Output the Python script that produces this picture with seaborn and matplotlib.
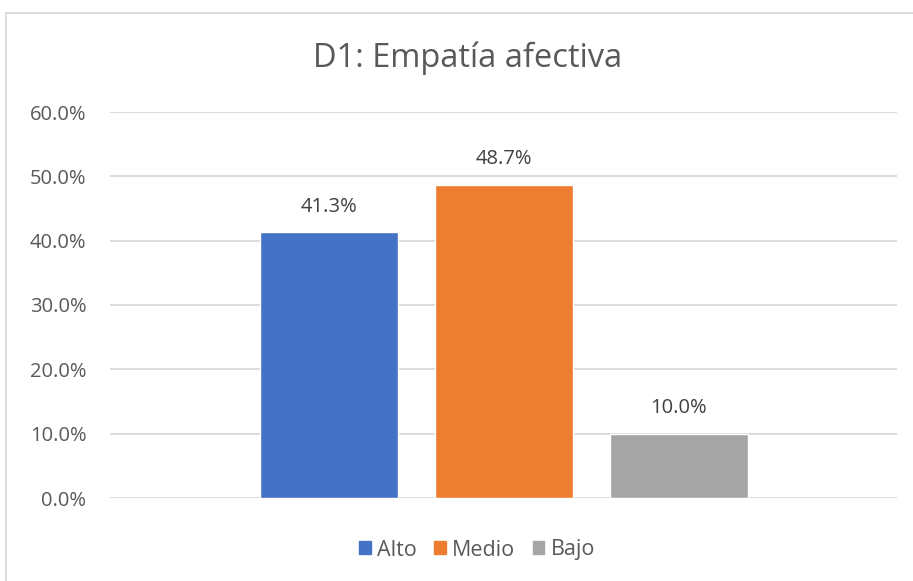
import numpy as np
import matplotlib.pyplot as plt
import pandas as pd
import seaborn as sns
from matplotlib.lines import Line2D
from matplotlib.ticker import PercentFormatter

## data
niveles = ["Alto", "Medio", "Bajo"]
porcentajes = [41.3, 48.7, 10.0]
colores = ["#4472C4", "#ED7D31", "#A5A5A5"]
ticks_y = [0, 10, 20, 30, 40, 50, 60]

df = pd.DataFrame({"nivel": niveles, "pct": porcentajes})

sns.set_style("white")
plt.rcParams['font.family'] = ['Open Sans', 'DejaVu Sans']

fig = plt.figure(figsize=(9.13, 5.81), dpi=100)
ax = fig.add_axes([110/913, 83/581, 787/913, 386/581])

sns.barplot(data=df, x="nivel", y="pct", hue="nivel", palette=colores,
            width=0.79, saturation=1, legend=False, ax=ax, zorder=3)

ax.set_xlim(-1.251, 3.246)
ax.set_ylim(0, 60)
ax.set_yticks(ticks_y)
ax.yaxis.set_major_formatter(PercentFormatter(decimals=1))
ax.grid(axis="y", color="#D9D9D9", linewidth=1.3, zorder=0)
ax.set_xticks([])
ax.set_xlabel("")
ax.set_ylabel("")
for s in ax.spines.values():
    s.set_visible(False)
ax.tick_params(axis="y", length=0, labelsize=14.5, labelcolor="#595959", pad=17)

## value labels over the bars
for i, v in enumerate(porcentajes):
    ax.annotate(f"{v:.1f}%", (i, v), xytext=(0, 11), textcoords="offset points",
                ha="center", va="bottom", fontsize=14.5, color="#404040")

fig.text(468/913, 1 - 58/581, "D1: Empatía afectiva", ha="center", va="center",
         fontsize=23.5, color="#595959")

## legend
handles = [plt.Rectangle((0, 0), 1, 1, color=c) for c in colores]
fig.legend(handles, niveles, loc="center", bbox_to_anchor=(477/913, 1 - 550/581),
           ncol=3, frameon=False, fontsize=15.5, handlelength=0.55, handleheight=0.55,
           handletextpad=0.3, columnspacing=0.8, labelcolor="#595959")

## chart border
fig.add_artist(Line2D([6/913, 1], [1 - 13/581, 1 - 13/581], color="#D9D9D9", linewidth=1.3))
fig.add_artist(Line2D([6/913, 6/913], [0, 1 - 13/581], color="#D9D9D9", linewidth=1.3))

fig.savefig("out.png", dpi=100)
